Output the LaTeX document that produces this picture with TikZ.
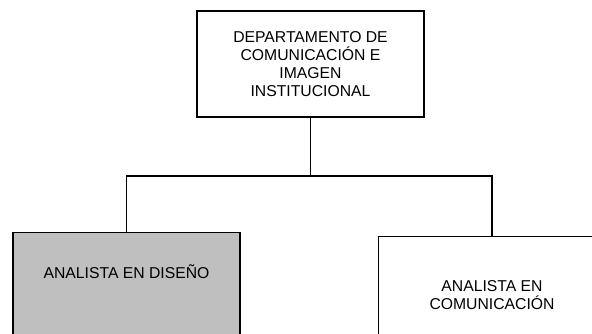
\documentclass[tikz,border=0pt]{standalone}
\usepackage{fontspec}
\setmainfont{Liberation Sans}
\usetikzlibrary{positioning}
\begin{document}
\begin{tikzpicture}[x=0.75pt,y=-0.75pt,
    caja/.style={draw,line width=1.1pt,minimum width=170pt,align=center,
      font=\fontsize{11.8}{13.7}\selectfont},
    gris/.style={fill=gray!50}]
      \clip (0,0) rectangle (592,334);
      \node(Dep)[caja,minimum height=79.5pt] at (310.5,64)
        {DEPARTAMENTO DE\\COMUNICACIÓN E\\IMAGEN\\INSTITUCIONAL};
      \node(AD)[caja,gris,minimum height=120pt,anchor=north] at (126.5,232){};
      \node(ADt)[font=\fontsize{11.8}{13.7}\selectfont] at (126.5,272){ANALISTA EN DISEÑO};
      \node(AC)[caja,minimum height=87pt,anchor=north] at (492,236){ANALISTA EN\\COMUNICACIÓN};
      \coordinate(J) at (310.5,176);
      \path[line width=1.1pt] (Dep) edge (J);
      \draw[line width=1.1pt] (AD.north) |- (J) -| (AC.north);
    \end{tikzpicture}
\end{document}
